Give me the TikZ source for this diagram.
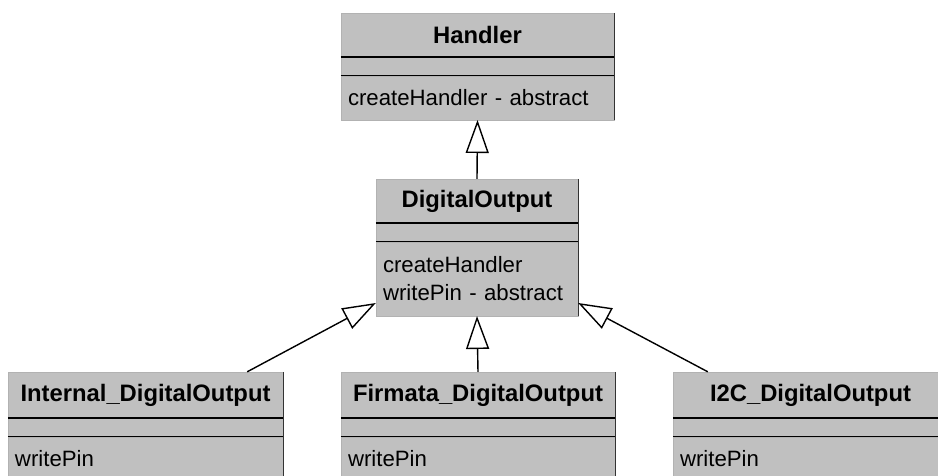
\documentclass[tikz,border=0pt]{standalone}
\usepackage{fontspec}
\setmainfont{Liberation Sans}
\usetikzlibrary{shapes,arrows.meta,positioning,calc}
\definecolor{classgray}{HTML}{C0C0C0}

\begin{document}
\begin{tikzpicture}[
    x=1pt, y=-1pt,
    classname/.style={rectangle, draw=gray!60, fill=classgray, minimum height=44pt, inner sep=0pt, font=\fontsize{23.8}{28}\selectfont\bfseries},
    classattr/.style={rectangle, draw=gray!60, fill=classgray, minimum height=18pt, inner sep=0pt},
    classops/.style={rectangle, draw=gray!60, fill=classgray, minimum height=44pt, inner xsep=7pt, inner ysep=4pt, align=left, font=\fontsize{22.2}{28}\selectfont},
    divider/.style={line width=1.5pt},
    boxedge/.style={gray!40!black, line width=1pt},
    inherit/.style={line width=1.4pt, -{Triangle[open, length=33pt, width=23pt]}},
    node distance=0pt
]
    \useasboundingbox (0,0) rectangle (938,475);
    \clip (0,0) rectangle (938,475);

    % abstract base
    \node[classname, minimum width=273pt] (handler) at (477.5,35) {Handler};
    \node[classattr, minimum width=273pt, below=of handler] (handler-attr) {};
    \node[classops, text width=259pt, below=of handler-attr] (handler-ops) {createHandler - abstract};

    \node[classname, minimum width=202pt] (digital) at (477,201) {DigitalOutput};
    \node[classattr, minimum width=202pt, below=of digital] (digital-attr) {};
    \node[classops, text width=188pt, minimum height=74pt, below=of digital-attr] (digital-ops) {createHandler\\writePin - abstract};

    % concrete outputs
    \node[classname, minimum width=275pt, minimum height=46pt] (internal) at (145.5,395) {Internal\_DigitalOutput};
    \node[classattr, minimum width=275pt, below=of internal] (internal-attr) {};
    \node[classops, text width=261pt, below=of internal-attr] (internal-ops) {writePin};

    \node[classname, minimum width=274pt, minimum height=46pt] (firmata) at (478,395) {Firmata\_DigitalOutput};
    \node[classattr, minimum width=274pt, below=of firmata] (firmata-attr) {};
    \node[classops, text width=260pt, below=of firmata-attr] (firmata-ops) {writePin};

    \node[classname, minimum width=275pt, minimum height=46pt] (i2c) at (810.5,395) {I2C\_DigitalOutput};
    \node[classattr, minimum width=275pt, below=of i2c] (i2c-attr) {};
    \node[classops, text width=261pt, below=of i2c-attr] (i2c-ops) {writePin};

    \foreach \c in {handler,digital,internal,firmata,i2c} {
        \draw[divider] (\c.south west) -- (\c.south east);
        \draw[divider] (\c-attr.south west) -- (\c-attr.south east);
        \draw[boxedge] (\c.north east) -- (\c-ops.south east);
    }

    \draw[inherit] (digital.north) -- (handler-ops.south);
    \draw[inherit] (firmata.north) -- (digital-ops.south);
    \draw[inherit] ([xshift=-36pt]internal.north east) -- ([yshift=13pt]digital-ops.south west);
    \draw[inherit] ([xshift=35pt]i2c.north west) -- ([yshift=13pt]digital-ops.south east);
\end{tikzpicture}
\end{document}
